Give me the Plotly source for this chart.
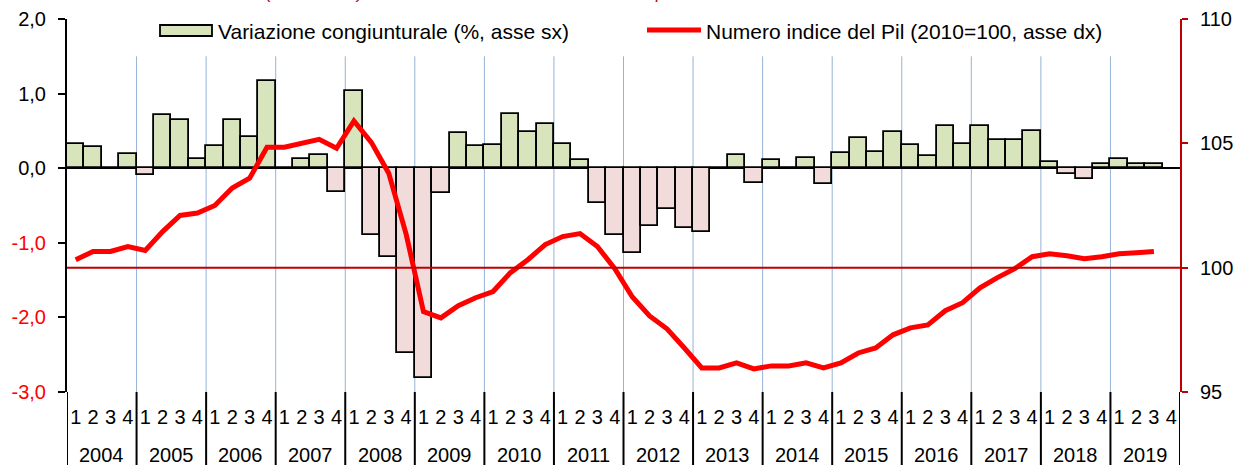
import plotly.graph_objects as go

# ---------------- data ----------------
years = [str(y) for y in range(2004, 2020)]
quarters = ["1", "2", "3", "4"]

# quarterly change of GDP (%, left axis), 2004Q1 .. 2019Q3
var_cong = [
    0.33, 0.29, 0.00, 0.19,     # 2004
    -0.09, 0.71, 0.65, 0.12,    # 2005
    0.30, 0.64, 0.42, 1.17,     # 2006
    0.00, 0.12, 0.18, -0.32,    # 2007
    1.04, -0.90, -1.19, -2.48,  # 2008
    -2.81, -0.33, 0.47, 0.30,   # 2009
    0.31, 0.73, 0.48, 0.59,     # 2010
    0.33, 0.11, -0.47, -0.89,   # 2011
    -1.13, -0.78, -0.55, -0.80, # 2012
    -0.85, 0.00, 0.18, -0.20,   # 2013
    0.11, -0.01, 0.14, -0.21,   # 2014
    0.20, 0.40, 0.22, 0.48,     # 2015
    0.31, 0.16, 0.56, 0.33,     # 2016
    0.57, 0.38, 0.38, 0.50,     # 2017
    0.08, -0.08, -0.15, 0.06,   # 2018
    0.12, 0.06, 0.05,           # 2019
]

# GDP index number (2010=100, right axis)
pil_index = [
    100.32, 100.65, 100.65, 100.85,  # 2004
    100.69, 101.45, 102.10, 102.20,  # 2005
    102.50, 103.20, 103.60, 104.84,  # 2006
    104.84, 105.00, 105.16, 104.80,  # 2007
    105.90, 105.04, 103.80, 101.35,  # 2008
    98.23, 97.98, 98.47, 98.79,      # 2009
    99.04, 99.80, 100.32, 100.93,    # 2010
    101.25, 101.37, 100.85, 99.96,   # 2011
    98.83, 98.06, 97.54, 96.77,      # 2012
    95.97, 95.97, 96.17, 95.93,      # 2013
    96.05, 96.05, 96.17, 95.97,      # 2014
    96.17, 96.57, 96.77, 97.30,      # 2015
    97.58, 97.70, 98.27, 98.59,      # 2016
    99.19, 99.60, 99.96, 100.44,     # 2017
    100.56, 100.48, 100.36, 100.44,  # 2018
    100.56, 100.60, 100.65,          # 2019
]

left_ticks = [-3, -2, -1, 0, 1, 2]
left_tick_labels = ["-3,0", "-2,0", "-1,0", "0,0", "1,0", "2,0"]
right_ticks = [95, 100, 105, 110]
right_tick_labels = ["95", "100", "105", "110"]
reference_level = 100

title_text = "Numero indice (2010=100) e tasso di variazione sul trimestre precedente"
legend_bar_text = "Variazione congiunturale (%, asse sx)"
legend_line_text = "Numero indice del Pil (2010=100, asse dx)"

# ---------------- style ----------------
FONT = "Liberation Sans, Arial, sans-serif"
FS_TICK = 20
FS_LEG = 21
FS_Q = 20
FS_YEAR = 20
GREEN = "#d8e4bc"
PINK = "#f2dcdb"
RED = "#ff0000"
DARKRED = "#c00000"
GRIDBLUE = "#95b3d7"

W, H = 1236, 465
ML, MR, MT, MB = 67, 56, 19, 73
PW = W - ML - MR
PH = H - MT - MB


def px_x(p):
    return (p - ML) / PW


def px_y(p):
    return 1 - (p - MT) / PH


n_slots = len(years) * len(quarters)
xq = list(range(len(var_cong)))
bar_colors = [GREEN if v >= 0 else PINK for v in var_cong]

fig = go.Figure()
fig.add_trace(go.Bar(
    x=xq, y=var_cong, width=1.0,
    marker=dict(color=bar_colors, line=dict(color="black", width=1.8)),
    yaxis="y", showlegend=False, hoverinfo="skip",
))
fig.add_trace(go.Scatter(
    x=list(range(len(pil_index))), y=pil_index, mode="lines",
    line=dict(color=RED, width=5),
    yaxis="y2", showlegend=False, hoverinfo="skip",
))

shapes = []
# blue vertical gridlines at year boundaries (inside)
for k in range(1, len(years)):
    xb = k * 4 - 0.5
    shapes.append(dict(type="line", xref="x", yref="y", x0=xb, x1=xb, y0=-3, y1=1.5,
                       line=dict(color=GRIDBLUE, width=1), layer="below"))
# black year separators below the axis
for k in range(len(years) + 1):
    xb = k * 4 - 0.5
    shapes.append(dict(type="line", xref="x", yref="paper", x0=xb, x1=xb, y0=0, y1=-0.25,
                       line=dict(color="black", width=2)))
# reference line at 100 on right axis
shapes.append(dict(type="line", xref="paper", yref="y2", x0=0, x1=1,
                   y0=reference_level, y1=reference_level,
                   line=dict(color=DARKRED, width=2)))
# custom legend symbols
shapes.append(dict(type="rect", xref="paper", yref="paper",
                   x0=px_x(160), x1=px_x(212), y0=px_y(36), y1=px_y(25),
                   fillcolor=GREEN, line=dict(color="black", width=1.8)))
shapes.append(dict(type="line", xref="paper", yref="paper",
                   x0=px_x(647), x1=px_x(701), y0=px_y(30), y1=px_y(30),
                   line=dict(color=RED, width=5)))

annotations = []
for k, yr in enumerate(years):
    annotations.append(dict(text=yr, x=k * 4 + 1.5, xref="x", y=px_y(455), yref="paper",
                            showarrow=False, xanchor="center", yanchor="middle",
                            font=dict(family=FONT, size=FS_YEAR, color="black")))
annotations.append(dict(text=legend_bar_text, x=px_x(216), xref="paper", y=px_y(31), yref="paper",
                        showarrow=False, xanchor="left", yanchor="middle",
                        font=dict(family=FONT, size=FS_LEG, color="black")))
annotations.append(dict(text=legend_line_text, x=px_x(704), xref="paper", y=px_y(31), yref="paper",
                        showarrow=False, xanchor="left", yanchor="middle",
                        font=dict(family=FONT, size=FS_LEG, color="black")))
annotations.append(dict(text="<i>" + title_text + "</i>", x=px_x(136), xref="paper",
                        y=px_y(4), yref="paper", showarrow=False,
                        xanchor="left", yanchor="bottom",
                        font=dict(family=FONT, size=19, color="#b01818")))

left_text = [f'<span style="color:{RED}">{t}</span>' if v < 0 else t
             for v, t in zip(left_ticks, left_tick_labels)]

fig.update_layout(
    width=W, height=H,
    margin=dict(l=ML, r=MR, t=MT, b=MB, pad=0, autoexpand=False),
    paper_bgcolor="white", plot_bgcolor="white",
    font=dict(family=FONT, size=FS_TICK, color="black"),
    bargap=0,
    xaxis=dict(range=[-0.5, n_slots - 0.5], tickvals=list(range(n_slots)),
               ticktext=quarters * len(years), ticks="", showgrid=False,
               zeroline=False, showline=False, tickangle=0, automargin=False,
               tickfont=dict(family=FONT, size=FS_Q, color="black"),
               ticklabelstandoff=11),
    yaxis=dict(range=[-3, 2], tickvals=left_ticks, ticktext=left_text,
               ticks="outside", ticklen=7, tickwidth=2, tickcolor="black",
               showline=True, linecolor="black", linewidth=2, showgrid=False,
               zeroline=True, zerolinecolor="black", zerolinewidth=2,
               automargin=False,
               tickfont=dict(family=FONT, size=FS_TICK, color="black"),
               ticklabelstandoff=8),
    yaxis2=dict(range=[95, 110], overlaying="y", side="right",
                tickvals=right_ticks, ticktext=right_tick_labels,
                ticks="outside", ticklen=6, tickwidth=2, tickcolor=DARKRED,
                showline=True, linecolor=DARKRED, linewidth=2, showgrid=False,
                zeroline=False, automargin=False,
                tickfont=dict(family=FONT, size=FS_TICK, color="black"),
                ticklabelstandoff=8),
    shapes=shapes,
    annotations=annotations,
    showlegend=False,
)

fig.write_html("out.html", config={"displayModeBar": False},
               post_script="document.body.style.margin='0';")
